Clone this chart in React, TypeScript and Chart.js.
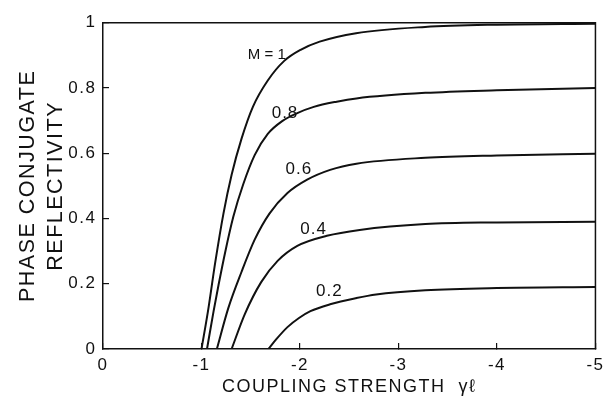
import React, { useEffect, useRef } from "react";
import { Chart, registerables } from "chart.js";

Chart.register(...registerables);

const FONT = '"Liberation Sans", Arial, sans-serif';
const INK = "#111111";

// Axis ticks
const xTicks = [0, -1, -2, -3, -4, -5];
const xTickLabels = ["0", "-1", "-2", "-3", "-4", "-5"];
const yTicks = [0, 0.2, 0.4, 0.6, 0.8, 1];
const yTickLabels = ["0", "0.2", "0.4", "0.6", "0.8", "1"];

// Curves (coupling strength γℓ vs reflectivity), one per M value
const seriesNames = ["M = 1", "0.8", "0.6", "0.4", "0.2"];

const m10X = [-1.0, -1.066, -1.14, -1.223, -1.306, -1.406, -1.523, -1.673, -1.84, -2.006, -2.2, -2.57, -3.27, -4.0, -5.0];
const m10Y = [0, 0.116, 0.266, 0.415, 0.534, 0.644, 0.743, 0.823, 0.883, 0.917, 0.942, 0.968, 0.987, 0.994, 0.997];

const m08X = [-1.056, -1.123, -1.173, -1.24, -1.323, -1.423, -1.54, -1.673, -1.823, -1.973, -2.14, -2.373, -2.573, -3.273, -4.0, -5.0];
const m08Y = [0, 0.116, 0.196, 0.296, 0.405, 0.504, 0.594, 0.659, 0.699, 0.723, 0.742, 0.758, 0.768, 0.785, 0.793, 0.8];

const m06X = [-1.156, -1.273, -1.406, -1.54, -1.69, -1.873, -2.073, -2.306, -2.573, -3.273, -4.0, -5.0];
const m06Y = [0, 0.126, 0.236, 0.335, 0.415, 0.478, 0.519, 0.549, 0.568, 0.586, 0.593, 0.598];

const m04X = [-1.306, -1.44, -1.606, -1.773, -1.973, -2.273, -2.606, -3.273, -4.0, -5.0];
const m04Y = [0, 0.107, 0.205, 0.27, 0.316, 0.347, 0.365, 0.383, 0.388, 0.39];

const m02X = [-1.68, -1.76, -1.873, -1.99, -2.106, -2.306, -2.573, -2.773, -3.273, -4.0, -5.0];
const m02Y = [0, 0.03, 0.067, 0.095, 0.116, 0.137, 0.156, 0.167, 0.18, 0.187, 0.19];

const seriesX = [m10X, m08X, m06X, m04X, m02X];
const seriesY = [m10Y, m08Y, m06Y, m04Y, m02Y];

// Curve label anchors (data coordinates)
const labelX = [-1.663, -1.848, -1.988, -2.138, -2.298];
const labelY = [0.9, 0.721, 0.552, 0.366, 0.178];

const framePlugin = {
  id: "frameAndLabels",
  beforeDraw(chart: any) {
    chart.ctx.letterSpacing = "1.5px";
  },
  afterDraw(chart: any) {
    const { ctx, chartArea: a, scales } = chart;
    ctx.save();
    ctx.strokeStyle = INK;
    ctx.lineWidth = 1.5;
    ctx.beginPath();
    ctx.moveTo(a.left, a.top);
    ctx.lineTo(a.right, a.top);
    ctx.lineTo(a.right, a.bottom);
    ctx.stroke();
    ctx.fillStyle = INK;
    ctx.textAlign = "center";
    ctx.textBaseline = "middle";
    seriesNames.forEach((t, i) => {
      ctx.font = i === 0 ? `15px ${FONT}` : `17px ${FONT}`;
      ctx.letterSpacing = i === 0 ? "0px" : "1px";
      ctx.fillText(t, scales.x.getPixelForValue(labelX[i]), scales.y.getPixelForValue(labelY[i]));
    });
    ctx.restore();
    ctx.letterSpacing = "0px";
  },
};

export default function App() {
  const ref = useRef<HTMLCanvasElement | null>(null);

  useEffect(() => {
    if (!ref.current) return;
    const datasets = seriesNames.map((name, i) => ({
      label: name,
      data: seriesX[i].map((x, j) => ({ x, y: seriesY[i][j] })),
      borderColor: INK,
      borderWidth: 2,
      pointRadius: 0,
      fill: false,
      cubicInterpolationMode: "monotone" as const,
    }));

    const chart = new Chart(ref.current, {
      type: "line",
      data: { datasets },
      plugins: [framePlugin],
      options: {
        animation: false,
        responsive: false,
        events: [],
        layout: { padding: { top: 14, right: 12, left: 0, bottom: 0 } },
        plugins: { legend: { display: false }, tooltip: { enabled: false } },
        scales: {
          x: {
            type: "linear",
            min: -5,
            max: 0,
            reverse: true,
            afterBuildTicks: (s: any) => {
              s.ticks = xTicks.map((v) => ({ value: v }));
            },
            afterFit: (s: any) => {
              s.height = 50;
            },
            ticks: {
              callback: (_v: any, i: number) => xTickLabels[i],
              font: { family: FONT, size: 17 },
              color: INK,
              padding: 12,
              maxRotation: 0,
              autoSkip: false,
            },
            grid: { drawOnChartArea: false, drawTicks: true, tickLength: -6, color: INK, lineWidth: 1.2 },
            border: { color: INK, width: 1.5 },
            title: {
              display: true,
              text: "COUPLING STRENGTH  γℓ",
              font: { family: FONT, size: 18 },
              color: INK,
              padding: { top: 0, bottom: 1 },
            },
          },
          y: {
            type: "linear",
            min: 0,
            max: 1,
            afterBuildTicks: (s: any) => {
              s.ticks = yTicks.map((v) => ({ value: v }));
            },
            afterFit: (s: any) => {
              s.width = 103;
            },
            ticks: {
              callback: (_v: any, i: number) => yTickLabels[i],
              font: { family: FONT, size: 17 },
              color: INK,
              padding: 12.5,
              autoSkip: false,
            },
            grid: { drawOnChartArea: false, drawTicks: true, tickLength: -6, color: INK, lineWidth: 1.2 },
            border: { color: INK, width: 1.5 },
            title: {
              display: true,
              text: ["PHASE CONJUGATE", "REFLECTIVITY"],
              font: { family: FONT, size: 21.5, lineHeight: "28px" },
              color: INK,
              padding: { top: 14.5, bottom: 0 },
            },
          },
        },
      },
    });
    return () => chart.destroy();
  }, []);

  return (
    <div style={{ position: "absolute", left: 0, top: 0, width: 615, height: 399, background: "#fff" }}>
      <canvas ref={ref} width={615} height={399} style={{ display: "block" }} />
    </div>
  );
}
